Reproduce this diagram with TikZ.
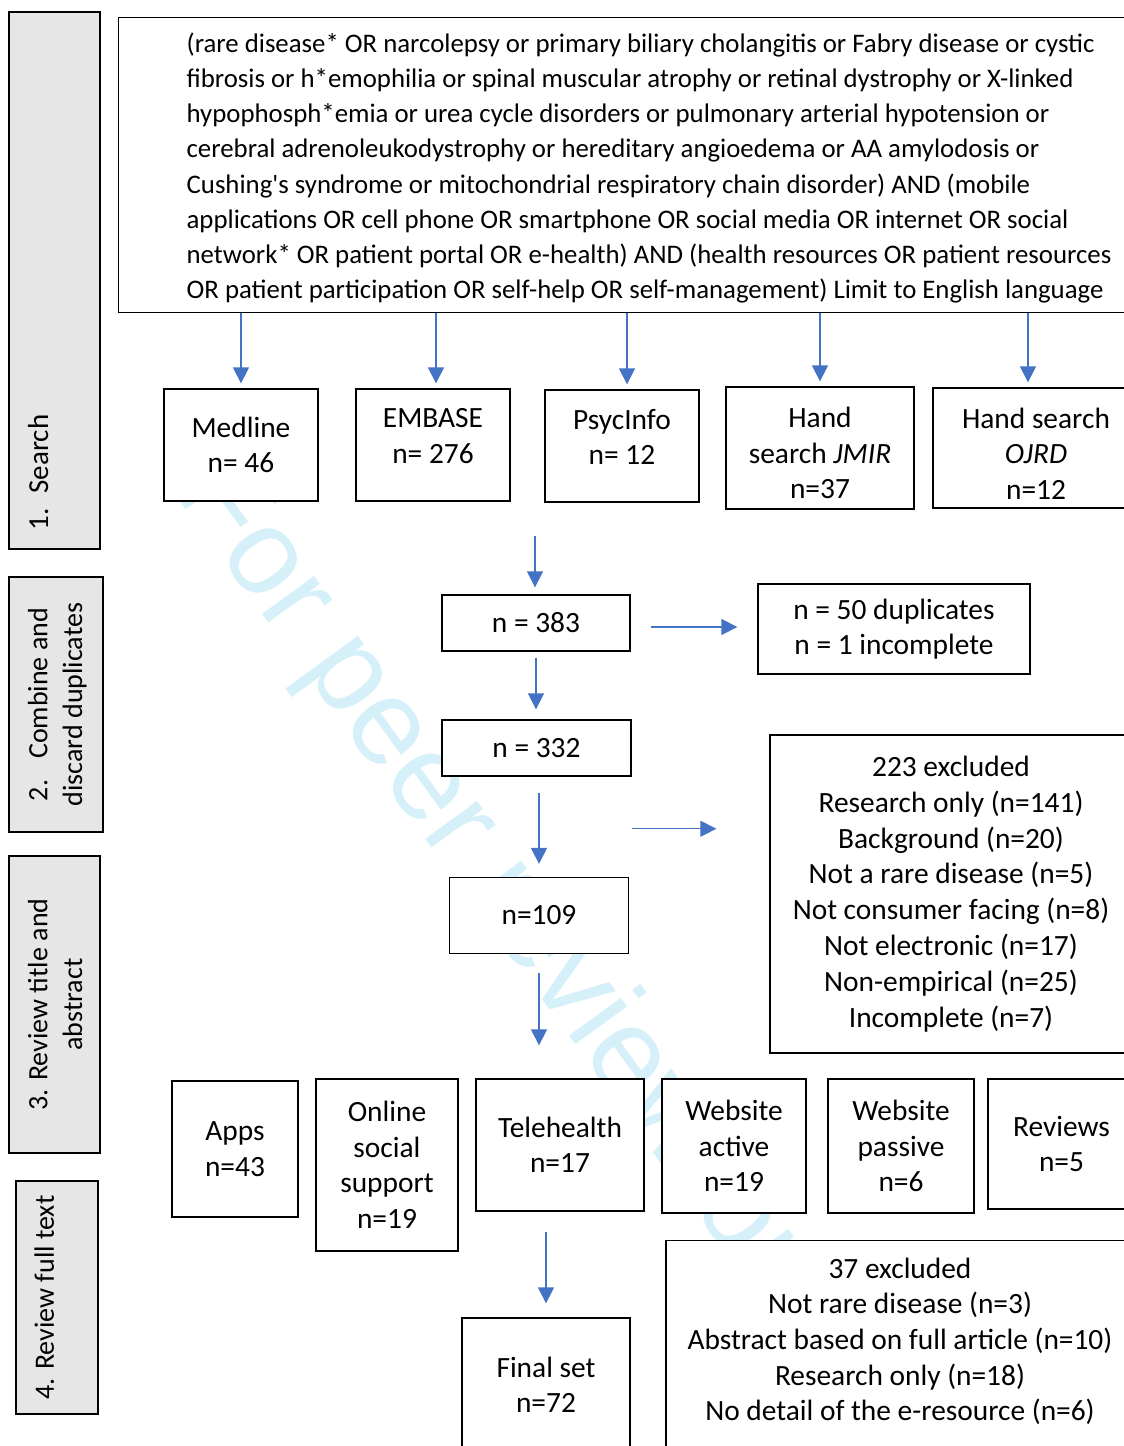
\documentclass[tikz,border=0pt]{standalone}
\usepackage{fontspec}
\setmainfont{Carlito}
\newfontfamily\markfont{Liberation Sans}
\usetikzlibrary{arrows.meta,calc,positioning}
\definecolor{arrowblue}{RGB}{68,114,196}
\definecolor{stagegray}{RGB}{231,230,230}
\definecolor{markcyan}{RGB}{214,240,250}

\begin{document}
\begin{tikzpicture}[x=0.5pt, y=-0.5pt,
    box/.style={rectangle, draw, line width=0.65pt, fill=white, align=center, inner sep=0pt, font=\fontsize{14.7}{17.75}\selectfont},
    stage/.style={rectangle, draw, line width=0.65pt, fill=stagegray, rotate=90, inner sep=0pt, align=center, font=\fontsize{14}{17.25}\selectfont},
    arr/.style={draw=arrowblue, line width=0.65pt, -{Triangle[width=8pt,length=8pt]}}
]
\useasboundingbox (0,0) rectangle (1124,1446);

% Watermark behind everything
\node[font=\markfont\fontsize{61}{61}\selectfont, text=markcyan, rotate=-54] (mark) at (524,921) {For peer review only};

% Stage labels on the left
\node[stage, minimum width=268.5pt, minimum height=45.5pt, text width=249.5pt, align=left, text height=19.5pt, text depth=26pt, font=\fontsize{14.5}{17.25}\selectfont] (stage1) at (54.5,280.5) {1. Search};
\node[stage, minimum width=127.5pt, minimum height=47pt, text height=36.5pt, text depth=10.5pt] (stage2) at (56,704.5) {2.\hspace{0.75em}Combine and\\discard duplicates};
\node[stage, minimum width=148.5pt, minimum height=45.5pt, text height=36.5pt, text depth=9pt] (stage3) at (54.5,1004.5) {3. Review title and\\abstract};
\node[stage, minimum width=116.5pt, minimum height=41pt, text height=19pt, text depth=22pt] (stage4) at (57,1297.5) {4. Review full text};

% Search string
\node[box, anchor=north west, align=left, inner xsep=34pt, text height=140.35pt, text depth=7.15pt, font=\fontsize{13.4}{17.55}\selectfont] (search) at (118,17) {
    (rare disease* OR narcolepsy or primary biliary cholangitis or Fabry disease or cystic\\
    fibrosis or h*emophilia or spinal muscular atrophy or retinal dystrophy or X-linked\\
    hypophosph*emia or urea cycle disorders or pulmonary arterial hypotension or\\
    cerebral adrenoleukodystrophy or hereditary angioedema or AA amylodosis or\\
    Cushing\textquotesingle s syndrome or mitochondrial respiratory chain disorder) AND (mobile\\
    applications OR cell phone OR smartphone OR social media OR internet OR social\\
    network* OR patient portal OR e-health) AND (health resources OR patient resources\\
    OR patient participation OR self-help OR self-management) Limit to English language
};

% Databases and hand searches
\node[box, minimum width=77pt, minimum height=56pt] (medline) at (241,445) {Medline\\n= 46};
\node[box, minimum width=77pt, minimum height=56pt, text depth=9pt] (embase) at (433,445) {EMBASE\\n= 276};
\node[box, minimum width=77pt, minimum height=56pt, text depth=9pt] (psycinfo) at (622,446) {PsycInfo\\n= 12};
\node[box, minimum width=94pt, minimum height=61pt, text height=51pt] (jmir) at (820,448) {Hand\\search \textit{JMIR}\\n=37};
\node[box, minimum width=103pt, minimum height=60pt, text height=51pt] (ojrd) at (1036,448) {Hand search\\\textit{OJRD}\\n=12};

\foreach \src/\dx in {medline/0, embase/1.5, psycinfo/2.5, jmir/0, ojrd/-4}
    \draw[arr, shorten >=2.5pt] ([xshift=\dx pt]search.south -| \src.north) -- ([xshift=\dx pt]\src.north);

% Combine and discard duplicates
\node[box, minimum width=94pt, minimum height=28pt] (n383) at (536,623) {n = 383};
\node[box, minimum width=136pt, minimum height=45pt] (dupl) at (894,629) {n = 50 duplicates\\n = 1 incomplete};
\node[box, minimum width=94.5pt, minimum height=28pt] (n332) at (536.5,748) {n = 332};

\coordinate (pool) at (535,536);
\draw[arr, shorten >=3.5pt] (pool) -- (pool |- n383.north);
\draw[arr, shorten >=10pt, shorten <=10pt] ([yshift=-2pt]n383.east) -- ([yshift=-2pt]n383.east -| dupl.west);
\draw[arr, shorten <=3pt, shorten >=5pt] (n383.south) -- (n383.south |- n332.north);

% Title and abstract screening
\node[box, minimum width=89.5pt, minimum height=38pt] (n109) at (539,915.5) {n=109};
\node[box, minimum width=181pt, minimum height=159pt, font=\fontsize{14.7}{17.95}\selectfont] (excl1) at (951,894) {
    223 excluded\\
    Research only (n=141)\\
    Background (n=20)\\
    Not a rare disease (n=5)\\
    Not consumer facing (n=8)\\
    Not electronic (n=17)\\
    Non-empirical (n=25)\\
    Incomplete (n=7)
};

\coordinate (split) at ($(n332.south)!0.5!(n109.north)$);
\draw[arr, shorten <=8pt, shorten >=6.5pt] (n332.south -| n109.north) -- (n109.north);
\draw[arr, shorten >=26.5pt] ([yshift=-1pt]split -| n332.east) -- ([yshift=-1pt]split -| excl1.west);

% Resource categories
\node[box, minimum width=63pt, minimum height=68pt] (apps) at (235,1149) {Apps\\n=43};
\node[box, minimum width=71pt, minimum height=86pt] (online) at (387,1165) {Online\\social\\support\\n=19};
\node[box, minimum width=84pt, minimum height=66pt] (tele) at (560,1145) {Telehealth\\n=17};
\node[box, minimum width=72pt, minimum height=67pt] (webact) at (734,1146) {Website\\active\\n=19};
\node[box, minimum width=73pt, minimum height=67pt] (webpas) at (901,1146) {Website\\passive\\n=6};
\node[box, minimum width=73.5pt, minimum height=65pt] (reviews) at (1061.5,1144) {Reviews\\n=5};

\draw[arr, shorten <=9.5pt, shorten >=16.5pt] (n109.south) -- (n109.south |- tele.north);

% Full text review
\node[box, minimum width=84pt, minimum height=67pt] (final) at (546,1385) {Final set\\n=72};
\node[box, anchor=north, minimum width=234pt, inner ysep=8.5pt, text depth=25pt, font=\fontsize{14.7}{17.85}\selectfont] (excl2) at (900,1240) {
    37 excluded\\
    Not rare disease (n=3)\\
    Abstract based on full article (n=10)\\
    Research only (n=18)\\
    No detail of the e-resource (n=6)
};

\draw[arr, shorten <=10pt, shorten >=7pt] (final.north |- tele.south) -- (final.north);

\end{tikzpicture}
\end{document}
